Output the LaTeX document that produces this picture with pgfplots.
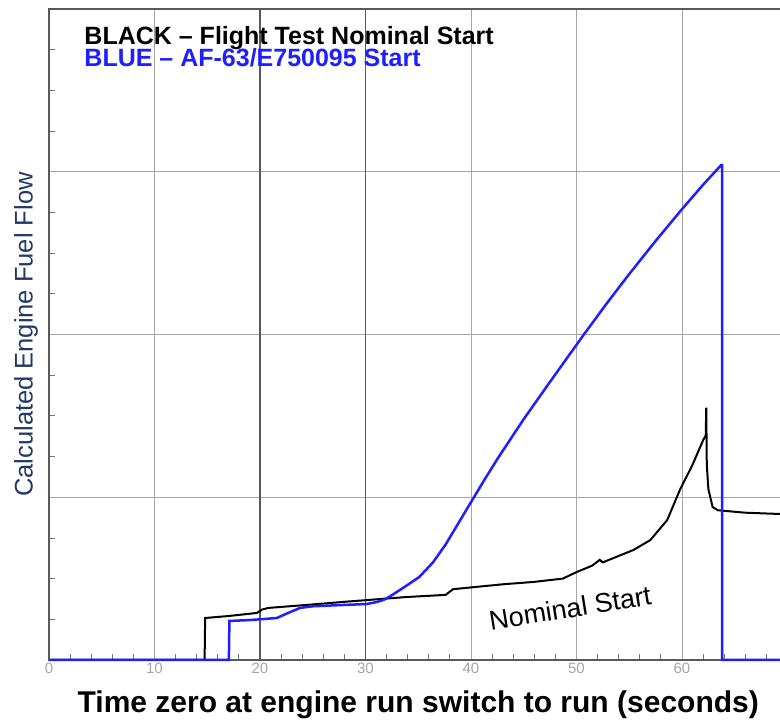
\documentclass[border=0pt]{standalone}
\usepackage{pgfplots}
\pgfplotsset{compat=1.18}
\usepackage{fontspec}
\setmainfont{Liberation Sans}
\definecolor{plotblue}{RGB}{30,30,255}
\definecolor{labblue}{RGB}{35,55,105}
\definecolor{ticklab}{RGB}{165,165,165}
\begin{document}
\begin{tikzpicture}
\begin{axis}[
  name=main,
  width=738.5pt, height=651pt, scale only axis,
  xmin=0, xmax=70, ymin=0, ymax=4,
  xtick={0,10,...,70},
  ytick={0,1,2,3,4},
  yticklabels={},
  minor x tick num=4,
  minor y tick num=3,
  xtick pos=bottom, ytick pos=left,
  tick align=inside,
  major tick length=0pt,
  minor tick length=6pt,
  every tick/.style={draw=black!55, line width=0.8pt},
  grid=major,
  grid style={draw=black!35, line width=0.8pt},
  axis line style={draw=black!65, line width=1.3pt},
  /pgf/number format/assume math mode=true,
  xticklabel style={font=\fontsize{15}{15}\selectfont, text=ticklab},
  xlabel={Time zero at engine run switch to run (seconds)},
  xlabel style={font=\fontsize{30}{30}\selectfont\bfseries, text=black,
    at={(axis description cs:0.5,-0.069)}, anchor=center},
  ylabel={Calculated Engine Fuel Flow},
  ylabel style={font=\fontsize{25.5}{25.5}\selectfont, text=labblue,
    at={(axis description cs:-0.0311,0.5)}, anchor=center},
  clip=false,
]
\draw[black!65, line width=1.1pt] (axis cs:20,0) -- (axis cs:20,4);
\draw[black!65, line width=1.1pt] (axis cs:30,0) -- (axis cs:30,4);
\addplot[black, line width=2pt] coordinates {
(0,0) (14.75,0) (14.8,0.258) (17,0.27) (19.7,0.289) (20.2,0.31) (20.8,0.32)
(23.8,0.335) (28.5,0.36) (33.9,0.387) (37.6,0.40) (38.3,0.435)
(43,0.465) (46,0.48) (48.7,0.50) (50.0,0.54) (51.5,0.58) (52.2,0.615) (52.5,0.60)
(55.4,0.676) (57.0,0.737) (58.6,0.86) (59.8,1.045) (61.0,1.2) (62.0,1.35)
(62.25,1.38) (62.3,1.55) (62.35,1.2) (62.5,1.05) (62.9,0.94) (63.4,0.92)
(66,0.905) (69.3,0.897)
};
\addplot[plotblue, line width=2.5pt] coordinates {
(0,0) (17.05,0) (17.1,0.24) (19,0.245) (21.6,0.258) (22.7,0.29) (23.8,0.32)
(25,0.33) (30.1,0.344) (31.0,0.355) (31.7,0.369) (32.3,0.39) (33.5,0.44)
(35.1,0.51) (36.4,0.60) (37.6,0.71) (38.8,0.84) (40.0,0.97) (41.3,1.11)
(42.6,1.245) (45,1.48) (47.5,1.71) (50.7,2.0) (52.8,2.185) (54.8,2.355)
(57.5,2.575) (60,2.77) (62,2.92) (63.7,3.04) (63.8,3.04) (63.8,0) (69.3,0)
};
\draw[black!65, line width=2.6pt] (rel axis cs:0,0) -- (rel axis cs:0,1);
\node[anchor=base west, font=\fontsize{25}{25}\selectfont\bfseries] at (axis cs:3.03,3.78) {BLACK -- Flight Test Nominal Start};
\node[anchor=base west, font=\fontsize{25}{25}\selectfont\bfseries, text=plotblue] at (axis cs:3.03,3.645) {BLUE -- AF-63/E750095 Start};
\node[rotate=9.2, font=\fontsize{27}{27}\selectfont] at (axis cs:49.4,0.32) {Nominal Start};
\end{axis}
\pgfresetboundingbox
\path (main.south west) ++(-49pt,-63pt) coordinate (bl);
\path (main.north west) ++(731pt,9pt) coordinate (tr);
\path[use as bounding box] (bl) rectangle (tr);
\end{tikzpicture}
\end{document}
